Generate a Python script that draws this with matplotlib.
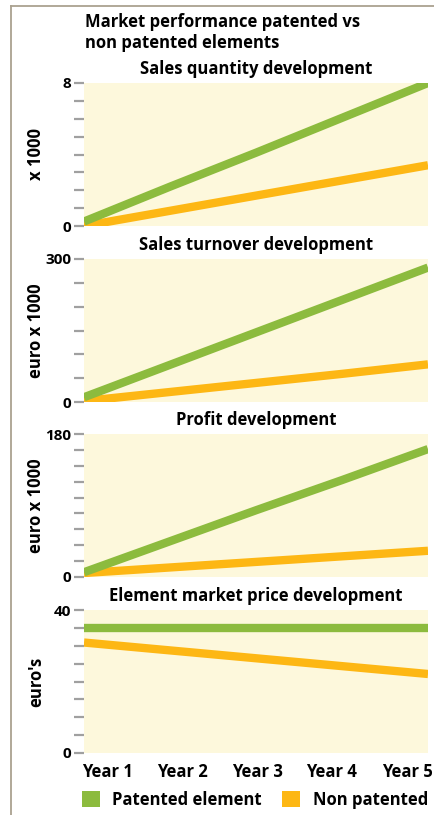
import numpy as np
import matplotlib.pyplot as plt
from matplotlib.lines import Line2D
from matplotlib.patches import Patch

plt.rcParams['font.family'] = ['Open Sans', 'DejaVu Sans']
plt.rcParams['font.weight'] = 'bold'

years = ["Year 1", "Year 2", "Year 3", "Year 4", "Year 5"]
series_names = ["Patented element", "Non patented"]

quantity_patented = [0.25, 2.2, 4.1, 6.05, 8.0]
quantity_non = [0.0, 0.85, 1.7, 2.55, 3.4]

turnover_patented = [10, 78, 146, 214, 282]
turnover_non = [2, 21, 40, 59, 79]

profit_patented = [6, 45, 84, 122, 161]
profit_non = [5, 12, 19, 26, 33]

price_patented = [35.1, 35.1, 35.1, 35.1, 35.1]
price_non = [30.9, 28.7, 26.5, 24.3, 22.1]

panels = [
    ("Sales quantity development", "x 1000", 8, 1, quantity_patented, quantity_non),
    ("Sales turnover development", "euro x 1000", 300, 50, turnover_patented, turnover_non),
    ("Profit development", "euro x 1000", 180, 20, profit_patented, profit_non),
    ("Element market price development", "euro's", 40, 5, price_patented, price_non),
]

GREEN = "#8cbb3e"
ORANGE = "#fdb714"
BG = "#fdf8dc"
TICK = "#a0a0a0"

W, H = 434, 815
fig = plt.figure(figsize=(W / 100, H / 100), dpi=100)

# frame lines
fig.add_artist(Line2D([10.5 / W, 10.5 / W], [0, 1 - 6 / H], color="#aaa190", lw=1.3))
fig.add_artist(Line2D([10.5 / W, 1], [1 - 6 / H, 1 - 6 / H], color="#aaa190", lw=1.3))

fig.text(85 / W, 1 - 22 / H, "Market performance patented vs", fontsize=12,
         fontweight='bold', va='center', ha='left')
fig.text(85 / W, 1 - 43 / H, "non patented elements", fontsize=12,
         fontweight='bold', va='center', ha='left')

tops = [83, 259, 434, 610]
ax_h = 143
left, right = 84, 428
x = np.arange(len(years))

for i, (title, ylabel, ymax, step, pat, non) in enumerate(panels):
    top = tops[i]
    ax = fig.add_axes([left / W, 1 - (top + ax_h) / H, (right - left) / W, ax_h / H])
    ax.set_facecolor(BG)
    ax.plot(x, non, color=ORANGE, lw=6, solid_capstyle='butt')
    ax.plot(x, pat, color=GREEN, lw=6, solid_capstyle='butt')
    ax.set_xlim(0, len(years) - 1)
    ax.set_ylim(0, ymax)
    for s in ax.spines.values():
        s.set_visible(False)
    ticks = np.arange(0, ymax + step / 2, step)
    ax.set_yticks(ticks)
    ax.set_yticklabels([str(int(t)) if t in (0, ymax) else "" for t in ticks])
    ax.tick_params(axis='y', length=7.5, width=1.6, color=TICK, pad=1.5,
                   labelsize=11)
    for lab in ax.get_yticklabels():
        lab.set_fontweight('bold')
    ax.set_ylabel(ylabel, fontsize=12, fontweight='bold')
    ax.yaxis.set_label_coords(-(left - 45) / (right - left), 0.5)
    ax.annotate(title, xy=(0.5, 1), xycoords='axes fraction', xytext=(0, 10),
                textcoords='offset points', ha='center', va='center',
                fontsize=12, fontweight='bold')
    if i == len(panels) - 1:
        pos = np.linspace(23 / 344 * 4, 323 / 344 * 4, len(years))
        ax.set_xticks(pos)
        ax.set_xticklabels(years, fontsize=12, fontweight='bold')
        ax.tick_params(axis='x', length=0, pad=7)
    else:
        ax.set_xticks([])

handles = [Patch(facecolor=GREEN), Patch(facecolor=ORANGE)]
leg = fig.legend(handles, series_names, loc='center left',
                 bbox_to_anchor=(82 / W, 1 - 800 / H), ncol=2, frameon=False,
                 prop={'size': 12, 'weight': 'bold'}, handlelength=1.08,
                 handleheight=1.08, handletextpad=0.75, columnspacing=1.2,
                 borderaxespad=0, borderpad=0)

fig.savefig("out.png", dpi=100)
